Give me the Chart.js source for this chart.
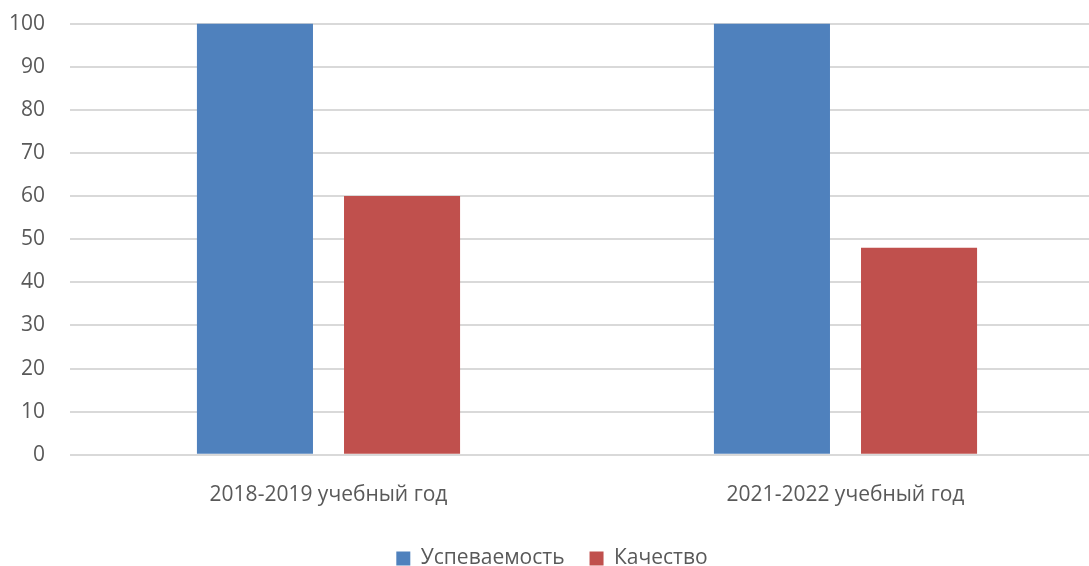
<!DOCTYPE html>
<html lang="ru">
<head>
    <meta charset="UTF-8">
    <title>Успеваемость и качество</title>
    <script src="https://cdn.jsdelivr.net/npm/chart.js"></script>
    <style>
        html, body {
            margin: 0;
            padding: 0;
            background: #ffffff;
            overflow: hidden;
        }
        .wrap {
            width: 1089px;
            height: 566px;
            overflow: hidden;
        }
        #chart {
            display: block;
            margin-top: -14px;
        }
    </style>
</head>
<body>
<div class="wrap">
    <canvas id="chart" width="1104" height="593"></canvas>
</div>
<script>
    // données
    const categories = ['2018-2019 учебный год', '2021-2022 учебный год'];
    const uspevaemost = [100, 100];
    const kachestvo = [60, 48];
    const yTicks = [0, 10, 20, 30, 40, 50, 60, 70, 80, 90, 100];

    const font = { family: "'Open Sans', sans-serif", size: 21 };

    new Chart(document.getElementById('chart'), {
        type: 'bar',
        data: {
            labels: categories,
            datasets: [
                { label: 'Успеваемость', data: uspevaemost, backgroundColor: '#4f81bd' },
                { label: 'Качество', data: kachestvo, backgroundColor: '#c0504d' }
            ]
        },
        options: {
            responsive: false,
            animation: false,
            categoryPercentage: 0.569,
            barPercentage: 0.789,
            scales: {
                x: {
                    afterFit: axis => { axis.height -= 5; },
                    grid: { display: false },
                    border: { display: false },
                    ticks: { color: '#595959', font: font, padding: 20 }
                },
                y: {
                    min: 0,
                    max: 100,
                    afterBuildTicks: axis => { axis.ticks = yTicks.map(v => ({ value: v })); },
                    afterFit: axis => { axis.width = 70; },
                    grid: { color: '#d9d9d9', lineWidth: 2, drawTicks: false },
                    border: { display: false },
                    ticks: { color: '#595959', font: font, padding: 25 }
                }
            },
            plugins: {
                legend: {
                    position: 'bottom',
                    labels: {
                        color: '#595959',
                        font: font,
                        boxWidth: 14,
                        boxHeight: 14,
                        padding: 25
                    }
                },
                tooltip: { enabled: false }
            }
        }
    });
</script>
</body>
</html>
